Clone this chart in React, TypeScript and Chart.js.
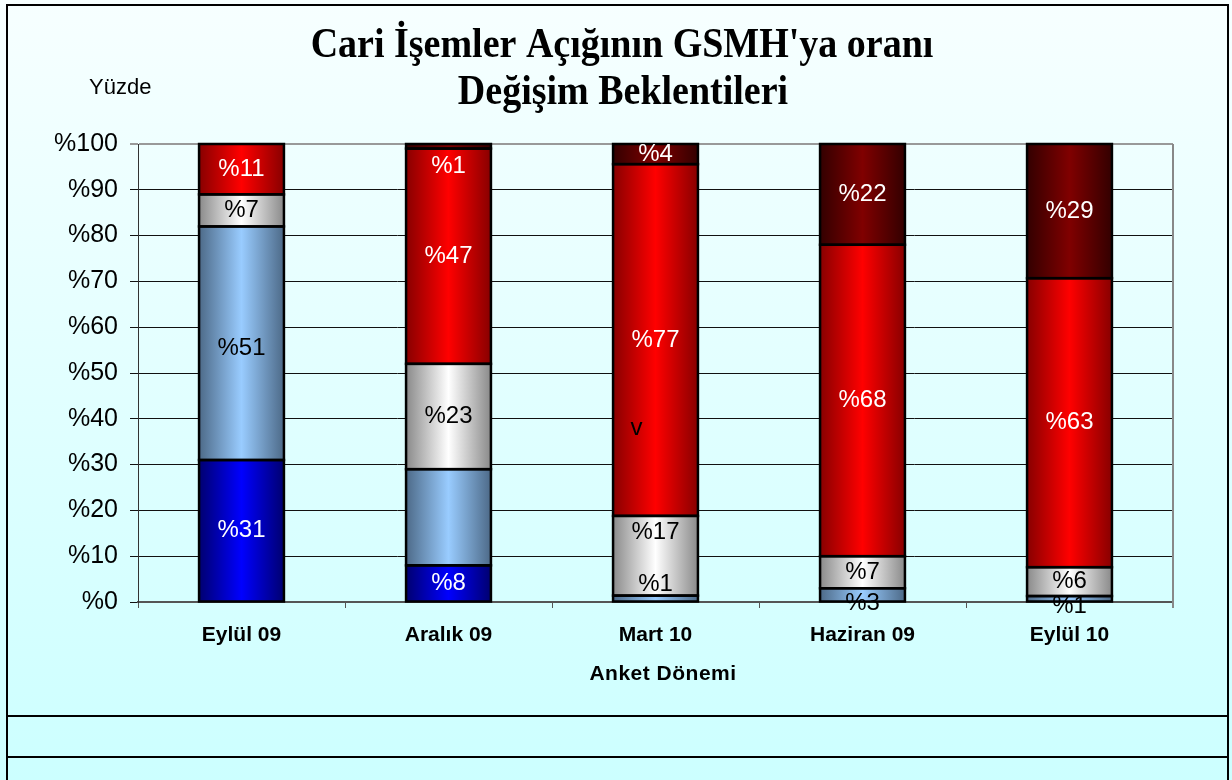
import React, { useEffect, useRef } from "react";
import { Chart, registerables } from "chart.js";
Chart.register(...registerables);

const categories = ["Eylül 09", "Aralık 09", "Mart 10", "Haziran 09", "Eylül 10"];
const darkBlueValues = [31, 8, null, null, null];
const lightBlueValues = [51, 21, 1.4, 3, 1.3];
const grayValues = [7, 23, 17.4, 7, 6.3];
const redValues = [11, 47, 76.8, 68, 63.1];
const darkRedValues = [null, 1, 4.4, 22, 29.3];

const darkBlueLabels = ["%31", "%8", "", "", ""];
const lightBlueLabels = ["%51", "", "%1", "%3", "%1"];
const grayLabels = ["%7", "%23", "%17", "%7", "%6"];
const redLabels = ["%11", "%47", "%77", "%68", "%63"];
const darkRedLabels = ["", "%1", "%4", "%22", "%29"];

const yTicks = [0, 10, 20, 30, 40, 50, 60, 70, 80, 90, 100];
const strayNote = { text: "v", category: 2, value: 38 };

const BAR_PCT = 0.41;
const W = 1232;
const H = 780;

const series = [
  { data: darkBlueValues, labels: darkBlueLabels, edge: "#000070", center: "#0000FF", text: "#FFFFFF", dy: [0, 0, 0, 0, 0] },
  { data: lightBlueValues, labels: lightBlueLabels, edge: "#4D6A88", center: "#99CCFF", text: "#000000", dy: [5, 0, -14, 8, 8] },
  { data: grayValues, labels: grayLabels, edge: "#8A8A8A", center: "#FFFFFF", text: "#000000", dy: [0, 0, -23, 0, 0] },
  { data: redValues, labels: redLabels, edge: "#880000", center: "#FF0000", text: "#FFFFFF", dy: [0, 0, 0, 0, 0] },
  { data: darkRedValues, labels: darkRedLabels, edge: "#330000", center: "#800000", text: "#FFFFFF", dy: [0, 20, 0, 0, 0] },
];

function gradientFor(edge: string, center: string) {
  return (c: any) => {
    const chart = c.chart;
    const area = chart.chartArea;
    if (c.type !== "data" || !area || !chart.scales.x) return center;
    const cx = chart.scales.x.getPixelForValue(c.dataIndex);
    const hw = ((area.right - area.left) / categories.length) * BAR_PCT / 2;
    const g = chart.ctx.createLinearGradient(cx - hw, 0, cx + hw, 0);
    g.addColorStop(0, edge);
    g.addColorStop(0.5, center);
    g.addColorStop(1, edge);
    return g;
  };
}

const decorPlugin = {
  id: "decor",
  beforeDraw(chart: any) {
    const ctx = chart.ctx;
    ctx.save();
    const bg = ctx.createLinearGradient(0, 0, 0, H);
    bg.addColorStop(0, "#F7FFFF");
    bg.addColorStop(1, "#CCFFFF");
    ctx.fillStyle = bg;
    ctx.fillRect(0, 0, W, H);
    ctx.strokeStyle = "#000";
    ctx.lineWidth = 2;
    ctx.strokeRect(7, 5, 1221, 800);
    ctx.strokeRect(7, 716, 1221, 41);
    // title (slightly tall serif, like the original)
    ctx.fillStyle = "#000";
    ctx.textAlign = "center";
    ctx.textBaseline = "alphabetic";
    ctx.font = 'bold 38px "Liberation Serif", "Times New Roman", serif';
    const drawTall = (t: string, x: number, y: number) => {
      ctx.save();
      ctx.translate(x, y);
      ctx.scale(1, 1.12);
      ctx.fillText(t, 0, 0);
      ctx.restore();
    };
    drawTall("Cari İşemler Açığının GSMH'ya oranı", 622, 57);
    drawTall("Değişim Beklentileri", 623, 104);
    // Yüzde
    ctx.textAlign = "left";
    ctx.textBaseline = "middle";
    ctx.font = '22px "Liberation Sans", Arial, sans-serif';
    ctx.fillText("Yüzde", 89, 88);
    // x title
    ctx.textAlign = "center";
    ctx.font = 'bold 21px "Liberation Sans", Arial, sans-serif';
    (ctx as any).letterSpacing = "0.5px";
    ctx.fillText("Anket Dönemi", 663, 674);
    (ctx as any).letterSpacing = "0px";
    ctx.restore();
  },
  afterDraw(chart: any) {
    const ctx = chart.ctx;
    const a = chart.chartArea;
    ctx.save();
    ctx.strokeStyle = "#888";
    ctx.lineWidth = 2;
    ctx.beginPath();
    ctx.moveTo(a.right, a.top);
    ctx.lineTo(a.right, a.bottom + 6);
    ctx.stroke();
    ctx.restore();
  },
  afterDatasetsDraw(chart: any) {
    const ctx = chart.ctx;
    ctx.save();
    // segment outlines (shared edges drawn once, like the original)
    ctx.strokeStyle = "#000";
    ctx.lineWidth = 2.5;
    series.forEach((s, di) => {
      const meta = chart.getDatasetMeta(di);
      meta.data.forEach((el: any, i: number) => {
        if (s.data[i] === null || s.data[i] === undefined) return;
        const p = el.getProps(["x", "y", "base", "width"], true);
        const top = Math.min(p.y, p.base);
        const h = Math.abs(p.base - p.y);
        ctx.strokeRect(p.x - p.width / 2, top, p.width, h);
      });
    });
    ctx.font = '24px "Liberation Sans", Arial, sans-serif';
    ctx.textAlign = "center";
    ctx.textBaseline = "middle";
    series.forEach((s, di) => {
      const meta = chart.getDatasetMeta(di);
      meta.data.forEach((el: any, i: number) => {
        const txt = s.labels[i];
        if (!txt) return;
        const p = el.getProps(["x", "y", "base"], true);
        ctx.fillStyle = s.text;
        ctx.fillText(txt, p.x, (p.y + p.base) / 2 + s.dy[i]);
      });
    });
    const xs = chart.scales.x;
    const ys = chart.scales.y;
    ctx.fillStyle = "#000";
    ctx.fillText(strayNote.text, xs.getPixelForValue(strayNote.category) - 19, ys.getPixelForValue(strayNote.value));
    ctx.restore();
  },
};

export default function App() {
  const ref = useRef<HTMLCanvasElement>(null);
  useEffect(() => {
    if (!ref.current) return;
    const chart = new Chart(ref.current, {
      type: "bar",
      data: {
        labels: categories,
        datasets: series.map((s) => ({
          data: s.data as any,
          backgroundColor: gradientFor(s.edge, s.center) as any,
          borderWidth: 0,
          inflateAmount: 0.5,
          barPercentage: BAR_PCT,
          categoryPercentage: 1,
        })),
      },
      options: {
        responsive: false,
        animation: false,
        devicePixelRatio: 1,
        layout: { padding: { top: 144, left: 0, right: 59, bottom: 0 } },
        plugins: { legend: { display: false }, title: { display: false }, tooltip: { enabled: false } },
        scales: {
          x: {
            stacked: true,
            afterFit: (s: any) => { s.height = 178; },
            grid: { display: true, drawOnChartArea: false, tickLength: 6, color: "#555", offset: true },
            border: { color: "#555", width: 2 },
            ticks: {
              color: "#000",
              padding: 15,
              font: { family: '"Liberation Sans", Arial, sans-serif', size: 21, weight: "bold" },
            },
          },
          y: {
            stacked: true,
            min: 0,
            max: 100,
            afterFit: (s: any) => { s.width = 138; },
            afterBuildTicks: (s: any) => { s.ticks = yTicks.map((v) => ({ value: v })); },
            grid: {
              color: (c: any) => (c.tick && c.tick.value === 100 ? "#999" : "#111"),
              lineWidth: (c: any) => (c.tick && c.tick.value === 100 ? 2 : 1),
              tickLength: 8,
            },
            border: { color: "#333", width: 1 },
            ticks: {
              color: "#000",
              padding: 12,
              callback: (v: any) => "%" + v,
              font: { family: '"Liberation Sans", Arial, sans-serif', size: 25 },
            },
          },
        },
      },
      plugins: [decorPlugin],
    });
    return () => chart.destroy();
  }, []);
  return (
    <canvas
      ref={ref}
      width={W}
      height={H}
      style={{ position: "absolute", left: 0, top: 0, width: W, height: H, display: "block" }}
    />
  );
}
